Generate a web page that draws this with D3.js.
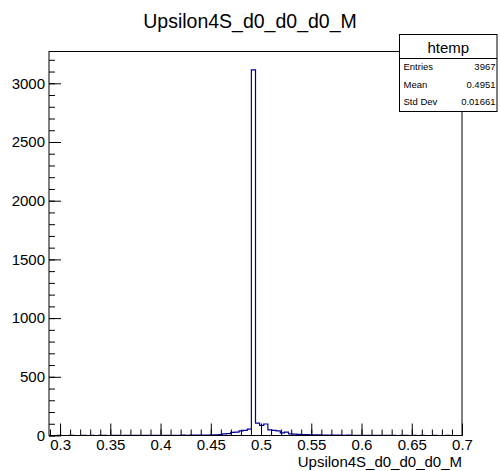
<!DOCTYPE html>
<html>
<head>
<meta charset="utf-8">
<script src="https://cdn.jsdelivr.net/npm/d3@7"></script>
<style>
  html, body { margin: 0; padding: 0; background: #fff; }
  svg { display: block; font-family: "Liberation Sans", Arial, Helvetica, sans-serif; }
</style>
</head>
<body>
<svg id="chart" width="500" height="471"></svg>
<script>
// Histogram definition: 100 equal bins between xLow and xHigh
const histTitle = "Upsilon4S_d0_d0_d0_M";
const xAxisTitle = "Upsilon4S_d0_d0_d0_M";
const xLow = 0.289;
const xHigh = 0.70;
const binCounts = [
  0, 0, 1, 0, 0, 1, 0, 0, 1, 0,
  1, 0, 1, 1, 0, 1, 1, 0, 1, 1,
  1, 1, 2, 1, 1, 2, 1, 2, 2, 1,
  2, 2, 3, 2, 3, 3, 4, 3, 4, 5,
  6, 8, 14, 16, 26, 28, 40, 44, 55, 3115,
  106, 86, 98, 48, 44, 40, 22, 28, 14, 11,
  9, 8, 7, 6, 6, 5, 4, 4, 3, 3,
  3, 2, 3, 2, 2, 2, 1, 2, 1, 1,
  2, 1, 1, 1, 0, 1, 1, 0, 1, 0,
  1, 0, 0, 1, 0, 0, 1, 0, 0, 0
];
const xTickLabels = ["0.3", "0.35", "0.4", "0.45", "0.5", "0.55", "0.6", "0.65", "0.7"];
const yTickLabels = ["0", "500", "1000", "1500", "2000", "2500", "3000"];
const statsName = "htemp";
const statLabels = ["Entries", "Mean", "Std Dev"];
const statValues = ["3967", "0.4951", "0.01661"];

const svg = d3.select("#chart");
const frame = { left: 49, right: 462, top: 51.5, bottom: 435.5 };
const lineColor = "#000099";

const nBins = binCounts.length;
const binWidth = (xHigh - xLow) / nBins;
const yMax = d3.max(binCounts) * 1.05;

const x = d3.scaleLinear().domain([xLow, xHigh]).range([frame.left, frame.right]);
const y = d3.scaleLinear().domain([0, yMax]).range([frame.bottom, frame.top]);

// Title
svg.append("text")
  .attr("x", 250).attr("y", 28)
  .attr("text-anchor", "middle")
  .attr("font-size", 19.5)
  .attr("fill", "#000")
  .text(histTitle);

// Histogram outline as a stepped path
const pts = [[xLow, 0]];
binCounts.forEach((c, i) => {
  const lo = xLow + i * binWidth;
  pts.push([lo, c]);
  pts.push([lo + binWidth, c]);
});
pts.push([xHigh, 0]);
const line = d3.line().x(d => x(d[0])).y(d => y(d[1]));
svg.append("path")
  .attr("d", line(pts))
  .attr("fill", "none")
  .attr("stroke", lineColor)
  .attr("stroke-width", 1.2);

// X axis: major ticks every 0.05, minor every 0.01, drawn inward
const xMajor = xTickLabels.map(Number);
const xMinor = d3.range(29, 71).map(v => v / 100);
const gxMinor = svg.append("g").attr("transform", `translate(0,${frame.bottom})`)
  .call(d3.axisBottom(x).tickValues(xMinor).tickSize(-6).tickFormat(""));
const gxMajor = svg.append("g").attr("transform", `translate(0,${frame.bottom})`)
  .call(d3.axisBottom(x).tickValues(xMajor).tickSize(-12).tickPadding(4)
    .tickFormat((d, i) => xTickLabels[i]));
[gxMinor, gxMajor].forEach(g => {
  g.select(".domain").remove();
  g.selectAll("line").attr("stroke", "#000").attr("stroke-width", 1);
});
gxMajor.selectAll("text").attr("font-size", 15).attr("fill", "#000")
  .attr("font-family", "'Liberation Sans', Arial, sans-serif");

// Y axis: major ticks every 500, minor every 100
const yMajor = yTickLabels.map(Number);
const yMinor = d3.range(0, 3300, 100);
const gyMinor = svg.append("g").attr("transform", `translate(${frame.left},0)`)
  .call(d3.axisLeft(y).tickValues(yMinor).tickSize(-6).tickFormat(""));
const gyMajor = svg.append("g").attr("transform", `translate(${frame.left},0)`)
  .call(d3.axisLeft(y).tickValues(yMajor).tickSize(-12).tickPadding(4)
    .tickFormat((d, i) => yTickLabels[i]));
[gyMinor, gyMajor].forEach(g => {
  g.select(".domain").remove();
  g.selectAll("line").attr("stroke", "#000").attr("stroke-width", 1);
});
gyMajor.selectAll("text").attr("font-size", 15).attr("fill", "#000")
  .attr("font-family", "'Liberation Sans', Arial, sans-serif");

// Frame
svg.append("rect")
  .attr("x", frame.left).attr("y", frame.top)
  .attr("width", frame.right - frame.left)
  .attr("height", frame.bottom - frame.top)
  .attr("fill", "none").attr("stroke", "#000").attr("stroke-width", 1);

// X axis title, right aligned
svg.append("text")
  .attr("x", frame.right).attr("y", 467)
  .attr("text-anchor", "end")
  .attr("font-size", 15)
  .attr("fill", "#000")
  .text(xAxisTitle);

// Statistics box: header row plus three equal rows
const box = { x: 399.5, y: 34.5, w: 97.5, h: 77, header: 24 };
const rowH = (box.h - box.header) / statLabels.length;
const stats = svg.append("g");
stats.append("rect")
  .attr("x", box.x).attr("y", box.y).attr("width", box.w).attr("height", box.h)
  .attr("fill", "#fff").attr("stroke", "#000").attr("stroke-width", 1);
stats.append("line")
  .attr("x1", box.x).attr("x2", box.x + box.w)
  .attr("y1", box.y + box.header).attr("y2", box.y + box.header)
  .attr("stroke", "#000");
stats.append("text")
  .attr("x", box.x + box.w / 2).attr("y", box.y + 18)
  .attr("text-anchor", "middle").attr("font-size", 15).attr("fill", "#000")
  .text(statsName);
statLabels.forEach((lab, i) => {
  const yy = box.y + box.header + rowH * (i + 0.5) + 2.5;
  stats.append("text")
    .attr("x", box.x + 4).attr("y", yy)
    .attr("font-size", 9.5).attr("fill", "#000").text(lab);
  stats.append("text")
    .attr("x", box.x + box.w - 1.5).attr("y", yy)
    .attr("text-anchor", "end")
    .attr("font-size", 9.5).attr("fill", "#000").text(statValues[i]);
});
</script>
</body>
</html>
